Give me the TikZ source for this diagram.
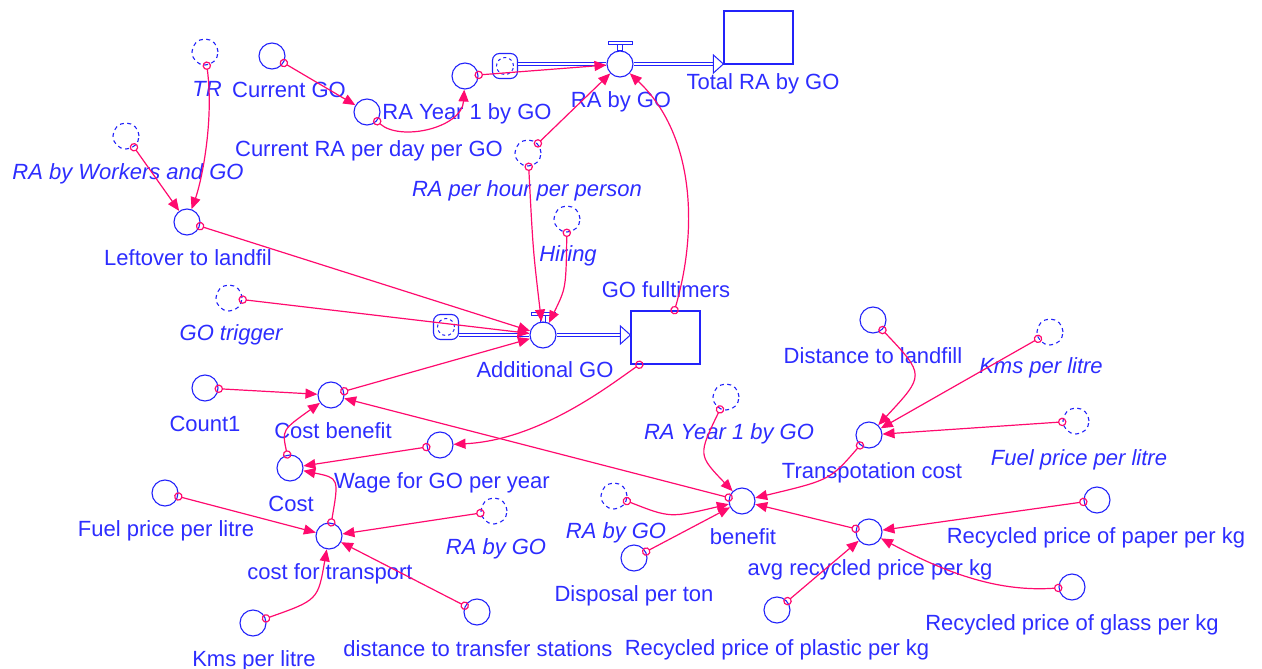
\documentclass[tikz,border=0pt]{standalone}
\usepackage{fontspec}
\setmainfont{Liberation Sans}
\usetikzlibrary{arrows.meta,calc}
\definecolor{nb}{RGB}{35,35,250}
\definecolor{tb}{RGB}{45,45,255}
\definecolor{lk}{RGB}{255,10,110}
\begin{document}
\begin{tikzpicture}[x=1pt,y=-1pt,
  aux/.style={circle, draw=nb, line width=1.1pt, minimum size=26pt, inner sep=0pt},
  shadow/.style={aux, dash pattern=on 4pt off 3.5pt},
  stock/.style={rectangle, draw=nb, line width=1.2pt, minimum width=69pt, minimum height=53pt, inner sep=0pt},
  cloudn/.style={rectangle, rounded corners=7pt, draw=nb, line width=1.1pt, minimum size=25pt, inner sep=0pt},
  lbl/.style={text=tb, font=\fontsize{22}{26}\selectfont, inner sep=0pt, anchor=base},
  ilbl/.style={lbl, font=\fontsize{22}{26}\selectfont\itshape},
  link/.style={draw=lk, line width=1.2pt, shorten <=-4pt,
    {Circle[open,length=8.5pt,width=8.5pt,line width=1.2pt]}-{Triangle[length=12pt,width=10pt]}},
  pipe/.style={draw=nb, line width=1.1pt, double=white, double distance=2.4pt},
  valvepart/.style={draw=nb, line width=1pt}
]
\useasboundingbox (0,0) rectangle (1262,669);

% stocks
\node[stock] (trbg) at (758.5,37.5) {};
\node[stock] (gof) at (665.5,337.5) {};
% valves
\node[aux] (vrabg) at (620,64) {};
\node[aux] (vago) at (543,335) {};
% clouds
\node[cloudn] (c1) at (505,66) {};
\node[cloudn] (c2) at (446,327) {};
\draw[nb, line width=1pt, dash pattern=on 3pt off 3pt] (c1) circle (8.5pt);
\draw[nb, line width=1pt, dash pattern=on 3pt off 3pt] (c2) circle (8.5pt);

% pipes
\draw[pipe] (c1.east |- vrabg) -- (vrabg.west);
\draw[pipe] (vrabg.east) -- ($(trbg.west |- vrabg)+(-10,0)$);
\draw[nb, fill=white, line width=1pt] (trbg.west |- vrabg) -- ++(-10,-9) -- ++(0,18) -- cycle;
\draw[pipe] (c2.east |- vago) -- (vago.west);
\draw[pipe] (vago.east) -- ($(gof.west |- vago)+(-10,0)$);
\draw[nb, fill=white, line width=1pt] (gof.west |- vago) -- ++(-10,-9) -- ++(0,18) -- cycle;
% valve tops
\draw[valvepart] ($(vrabg)+(-12,-22.5)$) rectangle ($(vrabg)+(12,-19.5)$);
\draw[valvepart] ($(vrabg)+(-2.5,-19.5)$) rectangle ($(vrabg)+(2.5,-13)$);
\draw[valvepart] ($(vago)+(-12,-22.5)$) rectangle ($(vago)+(12,-19.5)$);
\draw[valvepart] ($(vago)+(-2.5,-19.5)$) rectangle ($(vago)+(2.5,-13)$);

% auxiliaries
\node[shadow] (tr) at (205,52) {};
\node[aux] (cgo) at (272,56) {};
\node[aux] (crapd) at (367,112) {};
\node[aux] (ray1) at (465,76) {};
\node[shadow] (raphp) at (528,153) {};
\node[shadow] (rawg) at (126,136) {};
\node[aux] (left) at (187,222) {};
\node[shadow] (hir) at (567,219) {};
\node[shadow] (got) at (229,298) {};
\node[aux] (cnt) at (205,388) {};
\node[aux] (cb) at (331,395) {};
\node[aux] (wage) at (440,445) {};
\node[aux] (cost) at (290,468) {};
\node[aux] (fpl1) at (165,493) {};
\node[aux] (cft) at (329,536) {};
\node[shadow] (rabg2) at (494,511) {};
\node[aux] (kpl1) at (253,623) {};
\node[aux] (dts) at (477,612) {};
\node[aux] (dtl) at (873,320) {};
\node[shadow] (kpl2) at (1050,332) {};
\node[shadow] (fpl2) at (1076,421) {};
\node[aux] (tc) at (869,435) {};
\node[shadow] (ray2) at (726,397) {};
\node[aux] (ben) at (742,501) {};
\node[shadow] (rabg3) at (614,496) {};
\node[aux] (dpt) at (634,558) {};
\node[aux] (avg) at (869,532) {};
\node[aux] (pap) at (1097,500) {};
\node[aux] (gla) at (1072,587) {};
\node[aux] (pla) at (777,610) {};

% labels
\node[lbl] (ltrbg) at (763,90) {Total RA by GO};
\node[lbl] (lgof) at (666,297) {GO fulltimers};
\node[lbl] (lvrabg) at (621,107) {RA by GO};
\node[lbl] (lvago) at (545,377) {Additional GO};
\node[ilbl] (ltr) at (207,96) {TR};
\node[lbl] (lcgo) at (289,97) {Current GO};
\node[lbl] (lcrapd) at (369,156) {Current RA per day per GO};
\node[lbl] (lray1) at (467,119) {RA Year 1 by GO};
\node[ilbl] (lraphp) at (527,196) {RA per hour per person};
\node[ilbl] (lrawg) at (128,179) {RA by Workers and GO};
\node[lbl] (lleft) at (188,265) {Leftover to landfil};
\node[ilbl] (lhir) at (568,261) {Hiring};
\node[ilbl] (lgot) at (231,340) {GO trigger};
\node[lbl] (lcnt) at (205,431) {Count1};
\node[lbl] (lcb) at (333,438) {Cost benefit};
\node[lbl] (lwage) at (442,488) {Wage for GO per year};
\node[lbl] (lcost) at (291,511) {Cost};
\node[lbl] (lfpl1) at (166,536) {Fuel price per litre};
\node[lbl] (lcft) at (330,579) {cost for transport};
\node[ilbl] (lrabg2) at (496,554) {RA by GO};
\node[lbl] (lkpl1) at (254,666) {Kms per litre};
\node[lbl] (ldts) at (478,656) {distance to transfer stations};
\node[lbl] (ldtl) at (873,363) {Distance to landfill};
\node[ilbl] (lkpl2) at (1041,373) {Kms per litre};
\node[ilbl] (lfpl2) at (1079,465) {Fuel price per litre};
\node[lbl] (ltc) at (872,478) {Transpotation cost};
\node[ilbl] (lray2) at (729,439) {RA Year 1 by GO};
\node[lbl] (lben) at (743,544) {benefit};
\node[ilbl] (lrabg3) at (616,538) {RA by GO};
\node[lbl] (ldpt) at (634,601) {Disposal per ton};
\node[lbl] (lavg) at (870,575) {avg recycled price per kg};
\node[lbl] (lpap) at (1096,543) {Recycled price of paper per kg};
\node[lbl] (lgla) at (1072,630) {Recycled price of glass per kg};
\node[lbl] (lpla) at (777,655) {Recycled price of plastic per kg};

% links
\draw[link] (tr) .. controls (214,120) and (202,180) .. (left);
\draw[link] (rawg) -- (left);
\draw[link] (cgo) -- (crapd);
\draw[link] (crapd) .. controls (400,142) and (462,128) .. (ray1);
\draw[link] (ray1) -- (vrabg);
\draw[link] (raphp) -- (vrabg);
\draw[link] ([xshift=9pt]gof.north) .. controls (698,230) and (695,135) .. (vrabg);
\draw[link] (raphp) .. controls (533,250) .. (vago);
\draw[link] (hir) .. controls (566,288) .. (vago);
\draw[link] (left) -- (vago);
\draw[link] (got) -- (vago);
\draw[link] (cb) -- (vago);
\draw[link] (cnt) -- (cb);
\draw[link] (cost) .. controls (282,430) .. (cb);
\draw[link] ([xshift=-26pt]gof.south) .. controls (610,385) and (540,440) .. (wage);
\draw[link] (ben) -- (cb);
\draw[link] (wage) -- (cost);
\draw[link] (cft) .. controls (339,478) .. (cost);
\draw[link] (fpl1) -- (cft);
\draw[link] (rabg2) -- (cft);
\draw[link] (kpl1) .. controls (318,600) .. (cft);
\draw[link] (dts) -- (cft);
\draw[link] (dtl) .. controls (925,375) .. (tc);
\draw[link] (kpl2) -- (tc);
\draw[link] (fpl2) -- (tc);
\draw[link] (tc) .. controls (830,480) .. (ben);
\draw[link] (ray2) .. controls (698,455) .. (ben);
\draw[link] (rabg3) .. controls (670,518) .. (ben);
\draw[link] (dpt) -- (ben);
\draw[link] (avg) -- (ben);
\draw[link] (pap) -- (avg);
\draw[link] (gla) .. controls (1000,592) and (950,575) .. (avg);
\draw[link] (pla) -- (avg);
\end{tikzpicture}
\end{document}
